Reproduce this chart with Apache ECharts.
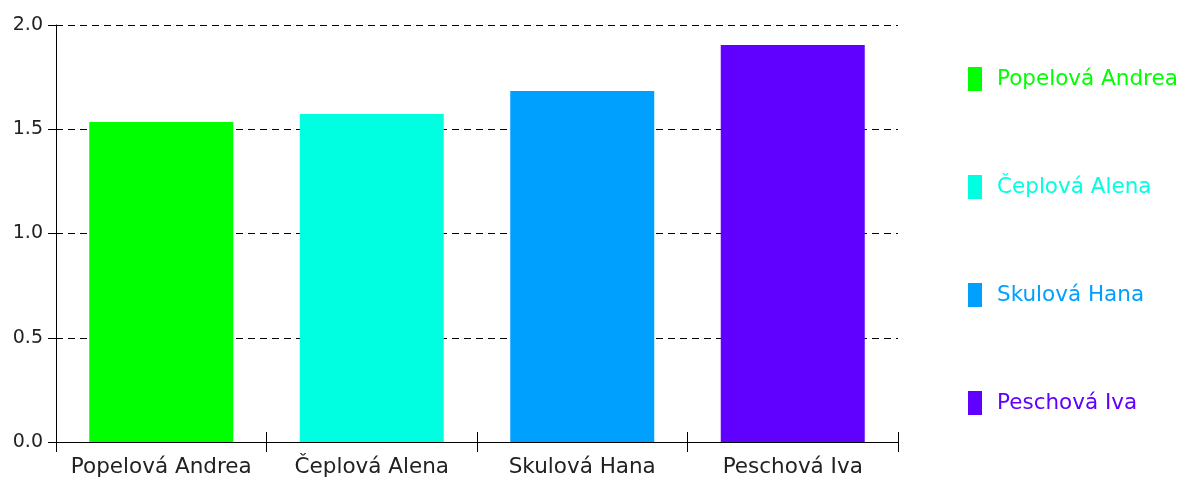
<!DOCTYPE html>
<html>
<head>
<meta charset="utf-8">
<script src="https://cdn.jsdelivr.net/npm/echarts@6/dist/echarts.min.js"></script>
<style>
  html, body { margin: 0; padding: 0; background: #fff; }
  #chart { width: 1189px; height: 479px; }
</style>
</head>
<body>
<div id="chart"></div>
<script>
// data
var names = ["Popelová Andrea", "Čeplová Alena", "Skulová Hana", "Peschová Iva"];
var values = [1.535, 1.573, 1.683, 1.904];
var colors = ["#00ff00", "#00ffe0", "#00a0ff", "#6000ff"];
var yTicks = [0, 0.5, 1.0, 1.5, 2.0];

var font = "DejaVu Sans";

var series = names.map(function (n, i) {
  return {
    name: n,
    type: "bar",
    stack: "all",
    barWidth: 144,
    itemStyle: { color: colors[i] },
    data: names.map(function (c, j) { return j === i ? values[i] : "-"; })
  };
});
// empty series so the second x axis (tick marks above the line) gets drawn
series.push({ type: "bar", xAxisIndex: 1, data: [], silent: true });

var chart = echarts.init(document.getElementById("chart"));
chart.setOption({
  animation: false,
  textStyle: { fontFamily: font },
  grid: { left: 56, right: 291, top: 25, bottom: 37 },
  legend: {
    orient: "vertical",
    left: 963,
    top: 62,
    itemWidth: 14,
    itemHeight: 24,
    itemGap: 84,
    icon: "rect",
    data: names.map(function (n, i) {
      return { name: n, textStyle: { color: colors[i] } };
    }),
    textStyle: { fontSize: 21.5, fontFamily: font, padding: [0, 0, 0, 10] }
  },
  xAxis: [{
    type: "category",
    data: names,
    position: "bottom",
    axisLine: { show: true, lineStyle: { color: "#000", width: 1 } },
    axisTick: { show: true, length: 10, lineStyle: { color: "#000" } },
    axisLabel: { color: "#222", fontSize: 21.5, margin: 14, interval: 0 }
  }, {
    type: "category",
    data: names,
    position: "bottom",
    offset: -10,
    axisLine: { show: false },
    axisTick: { show: true, length: 10, lineStyle: { color: "#000" } },
    axisLabel: { show: false },
    splitLine: { show: false }
  }],
  yAxis: {
    type: "value",
    min: yTicks[0],
    max: yTicks[yTicks.length - 1],
    interval: 0.5,
    axisLine: { show: true, lineStyle: { color: "#000" } },
    axisTick: { show: true, length: 8, lineStyle: { color: "#000" } },
    axisLabel: {
      color: "#222",
      fontSize: 19,
      margin: 13,
      formatter: function (v) { return v.toFixed(1); }
    },
    splitLine: { show: true, lineStyle: { color: "#000", type: [7, 5], width: 1 } }
  },
  series: series
});
</script>
</body>
</html>
